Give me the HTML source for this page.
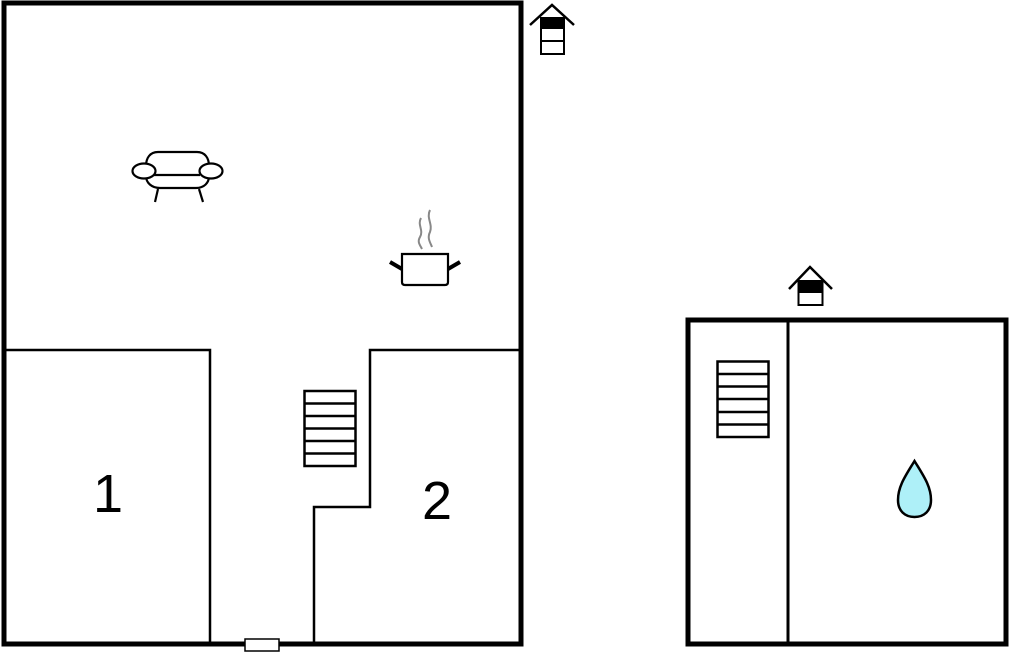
<!DOCTYPE html>
<html><head><meta charset="utf-8"><style>
html,body{margin:0;padding:0;background:#fff;}
svg{display:block;}
</style></head><body>
<svg width="1010" height="652" viewBox="0 0 1010 652" xmlns="http://www.w3.org/2000/svg">
<g fill="none" stroke="#000">
  <!-- left building -->
  <rect x="4" y="3" width="517" height="641" stroke-width="5"/>
  <polyline points="4,350 210,350 210,644" stroke-width="2.5"/>
  <polyline points="519,350 370,350 370,507 314,507 314,644" stroke-width="2.5"/>
  <!-- stairs left -->
  <rect x="304.5" y="391" width="51" height="75" stroke-width="2.5"/>
  <line x1="304" y1="403.5" x2="356" y2="403.5" stroke-width="2.5"/>
  <line x1="304" y1="416" x2="356" y2="416" stroke-width="2.5"/>
  <line x1="304" y1="428.5" x2="356" y2="428.5" stroke-width="2.5"/>
  <line x1="304" y1="441" x2="356" y2="441" stroke-width="2.5"/>
  <line x1="304" y1="453.5" x2="356" y2="453.5" stroke-width="2.5"/>
  <!-- door -->
  <rect x="245" y="639" width="34" height="12" fill="#fff" stroke-width="1.5"/>
  <!-- right building -->
  <rect x="688" y="320" width="318" height="324" stroke-width="5"/>
  <line x1="788" y1="320" x2="788" y2="644" stroke-width="3"/>
  <rect x="717.5" y="361.5" width="51" height="75.5" stroke-width="2.5"/>
  <line x1="717" y1="374" x2="769" y2="374" stroke-width="2.5"/>
  <line x1="717" y1="386.5" x2="769" y2="386.5" stroke-width="2.5"/>
  <line x1="717" y1="399" x2="769" y2="399" stroke-width="2.5"/>
  <line x1="717" y1="412" x2="769" y2="412" stroke-width="2.5"/>
  <line x1="717" y1="424.5" x2="769" y2="424.5" stroke-width="2.5"/>
  <!-- drop -->
  <path d="M914.5,461 C906,475 898,486 898,500 C898,511 905,517 914.5,517 C924,517 931,511 931,500 C931,486 923,475 914.5,461 Z" fill="#aef0f8" stroke-width="2.5"/>
  <!-- house icon 1 -->
  <polyline points="530,25 552,5 574,25" stroke-width="2.5"/>
  <rect x="541" y="18" width="23" height="36" fill="#fff" stroke-width="2"/>
  <rect x="541" y="18" width="23" height="11" fill="#000" stroke="none"/>
  <line x1="541" y1="41" x2="564" y2="41" stroke-width="2"/>
  <!-- house icon 2 -->
  <polyline points="789,289 810,267 832,289" stroke-width="2.5"/>
  <rect x="798.5" y="281" width="24" height="24" fill="#fff" stroke-width="2"/>
  <rect x="798.5" y="281" width="24" height="12" fill="#000" stroke="none"/>
  <!-- sofa -->
  <path d="M146,166 C146,158 150,152 158,152 L197,152 C205,152 209,158 209,166" stroke-width="2.2"/>
  <path d="M146,176 C146,183 152,188 160,188 L196,188 C204,188 209,183 209,176" stroke-width="2.2"/>
  <line x1="154" y1="175" x2="200" y2="175" stroke-width="2.2"/>
  <ellipse cx="144" cy="171" rx="11.5" ry="7.5" fill="#fff" stroke-width="2.2"/>
  <ellipse cx="211" cy="171" rx="11.5" ry="7.5" fill="#fff" stroke-width="2.2"/>
  <line x1="158" y1="189" x2="155" y2="202" stroke-width="2.2"/>
  <line x1="199" y1="189" x2="203" y2="202" stroke-width="2.2"/>
  <!-- pot -->
  <path d="M402,254 L448,254 L448,282 Q448,285 445,285 L405,285 Q402,285 402,282 Z" stroke-width="2.2"/>
  <line x1="390" y1="262" x2="402" y2="269" stroke-width="4"/>
  <line x1="448" y1="269" x2="460" y2="262" stroke-width="4"/>
  <path d="M421,218 C417,225 424,230 420,237 C417,242 420,245 422,249" stroke="#888" stroke-width="2"/>
  <path d="M430,210 C426,218 433,224 430,232 C427,238 430,242 432,247" stroke="#888" stroke-width="2"/>
</g>
<text x="108" y="512" font-family="Liberation Sans, sans-serif" font-size="54" text-anchor="middle" fill="#000">1</text>
<text x="437" y="519" font-family="Liberation Sans, sans-serif" font-size="54" text-anchor="middle" fill="#000">2</text>
</svg>
</body></html>
